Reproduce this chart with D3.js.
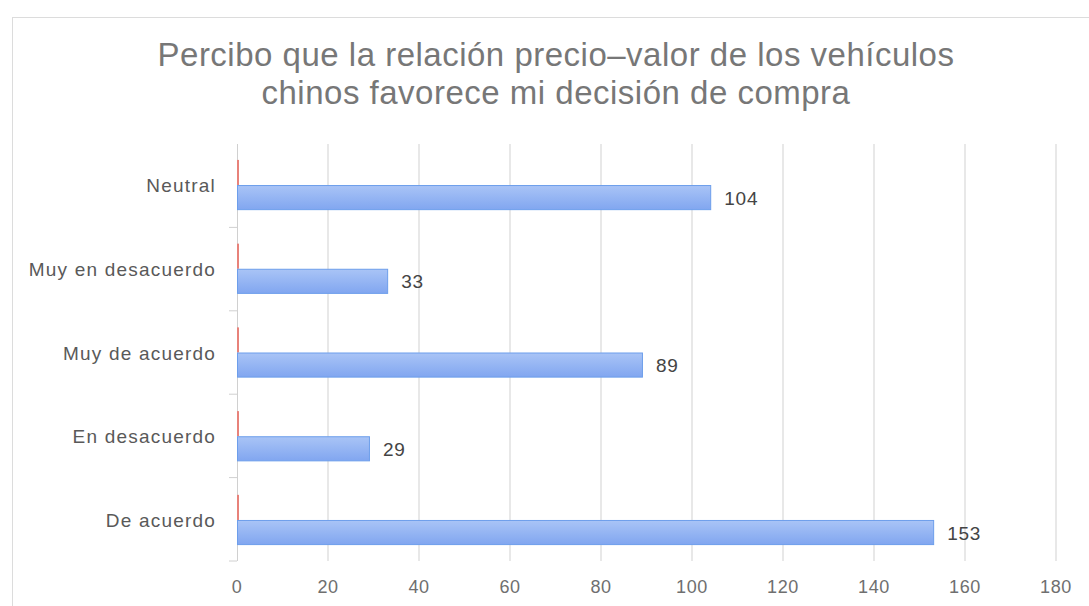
<!DOCTYPE html>
<html>
<head>
<meta charset="utf-8">
<script src="https://cdn.jsdelivr.net/npm/d3@7"></script>
<style>
  body { margin: 0; background: #fff; }
  svg text { font-family: "Liberation Sans", Arial, sans-serif; }
</style>
</head>
<body>
<svg id="chart" width="1089" height="606"></svg>
<script>
// data
const categories = ["Neutral", "Muy en desacuerdo", "Muy de acuerdo", "En desacuerdo", "De acuerdo"];
const seriesBlue = [104, 33, 89, 29, 153];
const seriesRed = [0, 0, 0, 0, 0];
const xTicks = [0, 20, 40, 60, 80, 100, 120, 140, 160, 180];
const titleLines = ["Percibo que la relación precio–valor de los vehículos", "chinos favorece mi decisión de compra"];

const svg = d3.select("#chart");
const margin = {left: 237, right: 33, top: 144, bottom: 45};
const width = 1089 - margin.left - margin.right;
const height = 606 - margin.top - margin.bottom;

// outer chart frame
svg.append("rect")
    .attr("x", 12.5).attr("y", 17.5)
    .attr("width", 1100).attr("height", 700)
    .attr("fill", "#fff")
    .attr("stroke", "#dcdcdc");

// title
svg.append("g").selectAll("text")
    .data(titleLines)
    .join("text")
    .attr("x", 556)
    .attr("y", (d, i) => 66 + i * 38)
    .attr("text-anchor", "middle")
    .attr("fill", "#777")
    .style("font-size", "33px")
    .style("letter-spacing", "0.5px")
    .text(d => d);

const defs = svg.append("defs");
const grad = defs.append("linearGradient")
    .attr("id", "blue-grad")
    .attr("x1", 0).attr("y1", 0).attr("x2", 0).attr("y2", 1);
grad.append("stop").attr("offset", "0%").attr("stop-color", "#a9c4f6");
grad.append("stop").attr("offset", "100%").attr("stop-color", "#81a6f0");

const g = svg.append("g")
    .attr("transform", "translate(" + margin.left + "," + margin.top + ")");

const x = d3.scaleLinear()
    .domain([0, 180])
    .range([0, width]);

const y = d3.scaleBand()
    .domain(categories)
    .range([0, height])
    .paddingInner(0.4)
    .paddingOuter(0.19);

const yInner = d3.scaleBand()
    .domain(["red", "blue"])
    .range([0, y.bandwidth()]);

// gridlines
g.append("g").selectAll("line")
    .data(xTicks.slice(1))
    .join("line")
    .attr("x1", d => x(d)).attr("x2", d => x(d))
    .attr("y1", 0).attr("y2", height)
    .attr("stroke", "#dcdcdc")
    .attr("stroke-width", 1.3);

// x axis labels
g.append("g").selectAll("text")
    .data(xTicks)
    .join("text")
    .attr("x", d => x(d))
    .attr("y", height + 32)
    .attr("text-anchor", "middle")
    .attr("fill", "#6f6f6f")
    .style("font-size", "18px")
    .style("letter-spacing", "0.6px")
    .text(d => d);

// left axis line + category separator ticks
g.append("line")
    .attr("x1", 0.5).attr("x2", 0.5)
    .attr("y1", 0).attr("y2", height)
    .attr("stroke", "#d0d0d0");

const step = height / categories.length;
g.append("g").selectAll("line")
    .data(d3.range(1, categories.length + 1))
    .join("line")
    .attr("x1", -8).attr("x2", 0)
    .attr("y1", d => d * step).attr("y2", d => d * step)
    .attr("stroke", "#d0d0d0");

// category labels
g.append("g").selectAll("text")
    .data(categories)
    .join("text")
    .attr("x", -21)
    .attr("y", d => y(d) + yInner("blue") + 7)
    .attr("text-anchor", "end")
    .attr("fill", "#595959")
    .style("font-size", "19px")
    .style("letter-spacing", "1.2px")
    .text(d => d);

const rows = categories.map((c, i) => ({cat: c, red: seriesRed[i], blue: seriesBlue[i]}));

// red series (zero values, drawn as a thin sliver)
g.append("g").selectAll("rect")
    .data(rows)
    .join("rect")
    .attr("x", x(0))
    .attr("y", d => y(d.cat) + yInner("red"))
    .attr("width", d => Math.max(x(d.red) - x(0), 2))
    .attr("height", yInner.bandwidth())
    .attr("fill", "#e8827a");

// blue series
g.append("g").selectAll("rect")
    .data(rows)
    .join("rect")
    .attr("x", x(0) + 0.5)
    .attr("y", d => y(d.cat) + yInner("blue") + 0.5)
    .attr("width", d => x(d.blue) - x(0))
    .attr("height", yInner.bandwidth() - 1)
    .attr("fill", "url(#blue-grad)")
    .attr("stroke", "#6d9eeb")
    .attr("stroke-width", 1);

// value labels
g.append("g").selectAll("text")
    .data(rows)
    .join("text")
    .attr("x", d => x(d.blue) + 14)
    .attr("y", d => y(d.cat) + yInner("blue") + yInner.bandwidth() / 2 + 7)
    .attr("fill", "#444")
    .style("font-size", "19px")
    .style("letter-spacing", "0.8px")
    .text(d => d.blue);
</script>
</body>
</html>
